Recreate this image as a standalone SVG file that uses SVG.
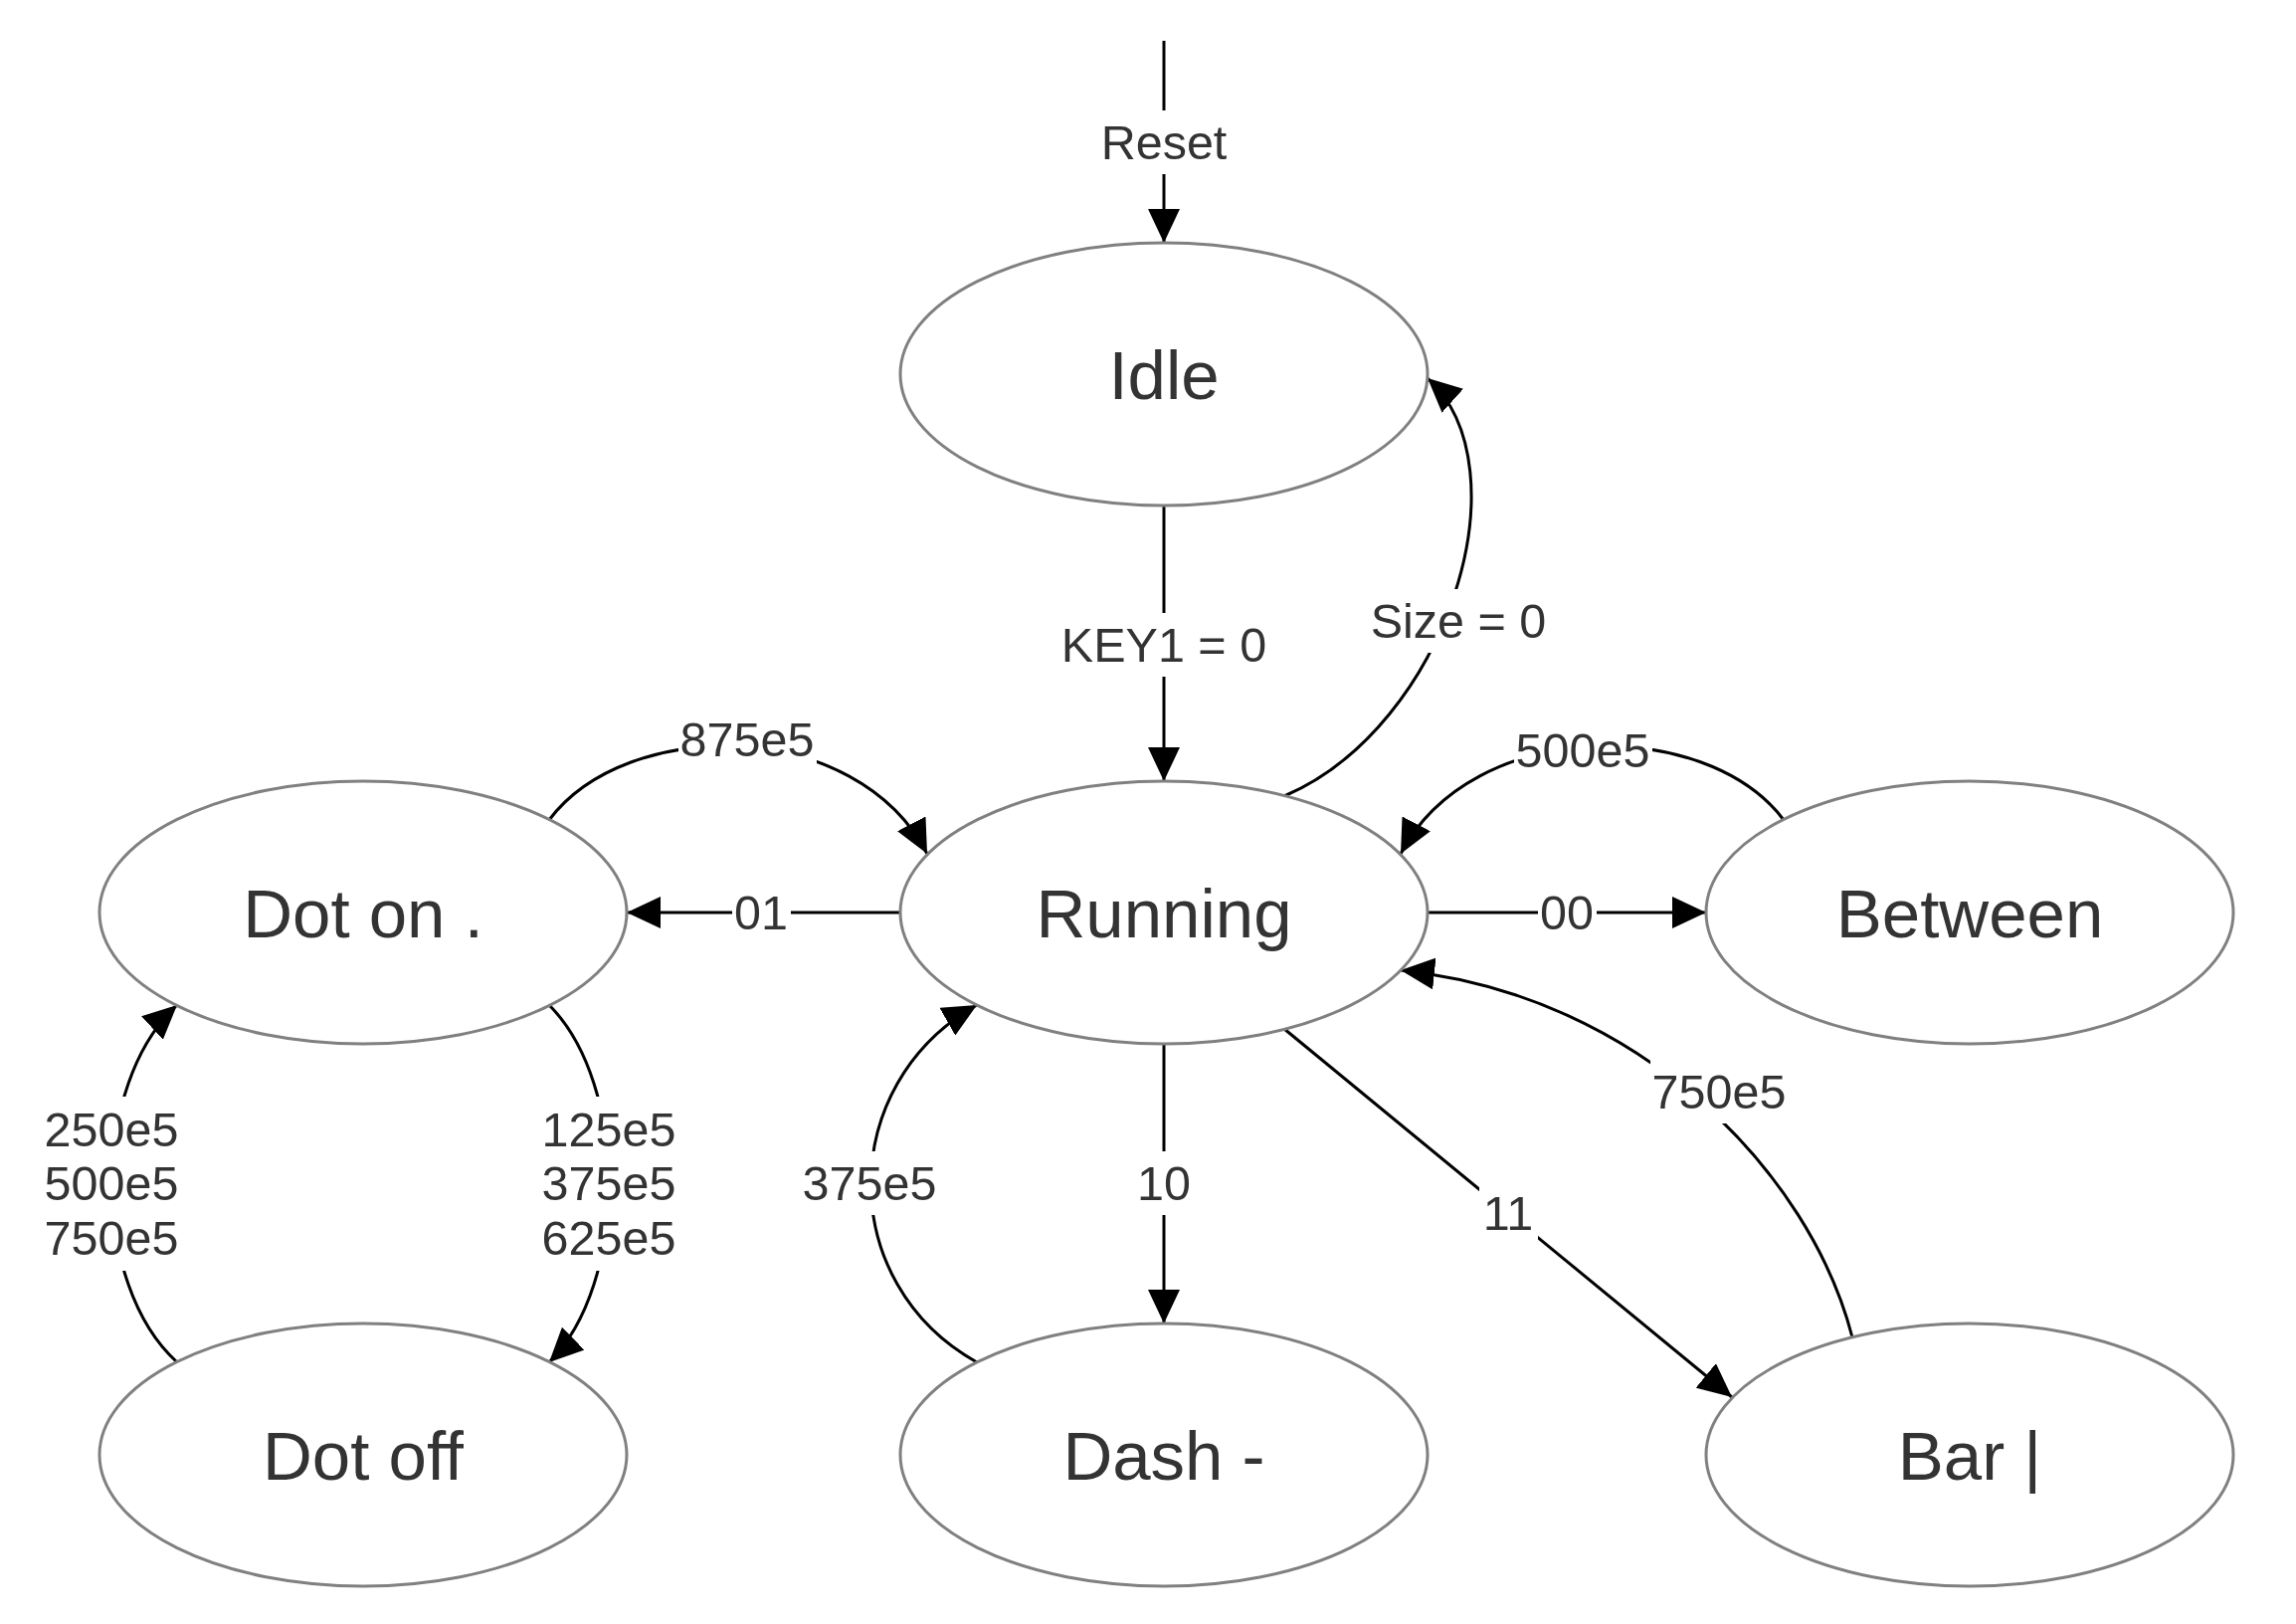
<svg xmlns="http://www.w3.org/2000/svg" width="2308" height="1632" viewBox="0 0 2308 1632">
<defs>
<style>
.node ellipse{fill:#fff;stroke:#808080;stroke-width:3}
.node text{font-family:"Liberation Sans",Arial,sans-serif;font-size:69px;fill:#333;text-anchor:middle}
.edge path{fill:none;stroke:#000;stroke-width:3;marker-end:url(#arr)}
.lbl rect{fill:#fff}
.lbl text{font-family:"Liberation Sans",Arial,sans-serif;font-size:48.5px;fill:#333;text-anchor:middle}
</style>
<marker id="arr" markerUnits="userSpaceOnUse" markerWidth="35" markerHeight="32" refX="34" refY="16" orient="auto">
<path d="M0,0 L34,16 L0,32 z" fill="#000"/>
</marker>
</defs>
<rect width="2308" height="1632" fill="#fff"/>
<g id="connectors">
<g class="edge">
<path d="M1170,41 L1170,244"/>
<path d="M1170,508 L1170,785"/>
<path d="M1291,800 C1455,730 1535,470 1435,380"/>
<path d="M905,917 L630,917"/>
<path d="M1435,917 L1715,917"/>
<path d="M552,824 C630,720 860,720 932,858"/>
<path d="M1793,824 C1715,720 1480,720 1408,858"/>
<path d="M1862,1344 C1820,1180 1650,1000 1408,975"/>
<path d="M1291,1034 L1741,1404"/>
<path d="M1170,1049 L1170,1330"/>
<path d="M982,1369 C840,1290 840,1090 982,1010"/>
<path d="M552,1010 C632,1090 632,1290 552,1369"/>
<path d="M178,1369 C91,1290 91,1090 178,1010"/>
</g>
<g class="lbl">
<rect x="1104" y="111" width="132" height="64"/><text x="1170" y="160">Reset</text>
<rect x="1065" y="616" width="210" height="64"/><text x="1170" y="665">KEY1 = 0</text>
<rect x="1376" y="592" width="181" height="64"/><text x="1466" y="641">Size = 0</text>
<rect x="682" y="711" width="139" height="64"/><text x="751" y="760">875e5</text>
<rect x="1522" y="722" width="139" height="64"/><text x="1591" y="771">500e5</text>
<rect x="736" y="885" width="59" height="64"/><text x="765" y="934">01</text>
<rect x="1546" y="885" width="59" height="64"/><text x="1575" y="934">00</text>
<rect x="1659" y="1065" width="139" height="64"/><text x="1728" y="1114">750e5</text>
<rect x="1141" y="1157" width="59" height="64"/><text x="1170" y="1206">10</text>
<rect x="1487" y="1187" width="59" height="64"/><text x="1516" y="1236">11</text>
<rect x="805" y="1157" width="139" height="64"/><text x="874" y="1206">375e5</text>
<rect x="543" y="1102" width="139" height="175"/><text x="612" y="1152">125e5</text><text x="612" y="1206">375e5</text><text x="612" y="1261">625e5</text>
<rect x="43" y="1102" width="139" height="175"/><text x="112" y="1152">250e5</text><text x="112" y="1206">500e5</text><text x="112" y="1261">750e5</text>
</g>
</g>
<g id="node-idle" class="node"><ellipse cx="1170" cy="376" rx="265" ry="132"/><text x="1170" y="401">Idle</text></g>
<g id="node-running" class="node"><ellipse cx="1170" cy="917" rx="265" ry="132"/><text x="1170" y="942">Running</text></g>
<g id="node-doton" class="node"><ellipse cx="365" cy="917" rx="265" ry="132"/><text x="365" y="942">Dot on .</text></g>
<g id="node-between" class="node"><ellipse cx="1980" cy="917" rx="265" ry="132"/><text x="1980" y="942">Between</text></g>
<g id="node-dotoff" class="node"><ellipse cx="365" cy="1462" rx="265" ry="132"/><text x="365" y="1487">Dot off</text></g>
<g id="node-dash" class="node"><ellipse cx="1170" cy="1462" rx="265" ry="132"/><text x="1170" y="1487">Dash -</text></g>
<g id="node-bar" class="node"><ellipse cx="1980" cy="1462" rx="265" ry="132"/><text x="1980" y="1487">Bar |</text></g>
</svg>
